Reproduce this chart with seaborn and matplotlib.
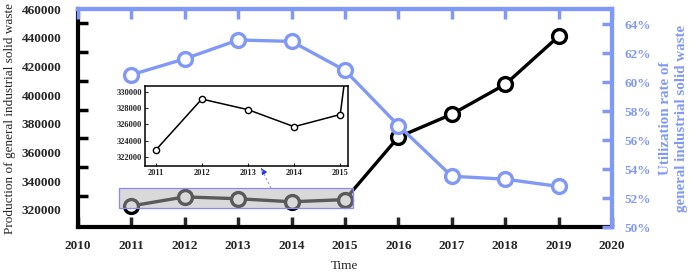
import numpy as np
import pandas as pd
import seaborn as sns
import matplotlib.pyplot as plt
from matplotlib.patches import Rectangle
from matplotlib.ticker import FixedLocator

# data
years = [2011, 2012, 2013, 2014, 2015, 2016, 2017, 2018, 2019]
production = [322800, 329100, 327800, 325700, 327200, 370800, 386700, 407500, 441000]
utilization = [60.5, 61.6, 62.9, 62.8, 60.8, 57.0, 53.5, 53.3, 52.8]
x_ticks = list(range(2010, 2021))
left_labels = list(range(320000, 460001, 20000))
right_labels = list(range(50, 65, 2))
inset_yticks = [322000, 324000, 326000, 328000, 330000]

df = pd.DataFrame({'year': years, 'production': production, 'utilization': utilization})

sns.set_style('ticks')
plt.rcParams['font.family'] = ['Liberation Serif', 'DejaVu Serif']

blue = '#8199f6'

fig = plt.figure(figsize=(6.92, 2.75), dpi=100)
ax = fig.add_axes([0.1127, 0.1745, 0.7717, 0.7925])

sns.lineplot(data=df, x='year', y='production', ax=ax, color='black', lw=2.4,
             marker='o', markersize=10, markerfacecolor='white',
             markeredgecolor='black', markeredgewidth=2.4, zorder=3)
ax.set_xlim(2010, 2020)
ax.set_ylim(308100, 460000)
ax.set_xticks(x_ticks)
ax.set_xticklabels([str(t) for t in x_ticks], fontweight='bold', fontsize=9.5)
# labels sit on the majors, the tick marks sit between them
ax.yaxis.set_major_locator(FixedLocator(left_labels))
ax.yaxis.set_minor_locator(FixedLocator(list(range(330000, 450001, 20000))))
ax.set_yticklabels([str(v) for v in left_labels], fontweight='bold', fontsize=9.5)
ax.tick_params(axis='y', which='major', length=0, pad=12)
ax.tick_params(axis='y', which='minor', direction='in', length=7, width=2.5, color='black')
ax.tick_params(axis='x', direction='in', length=7, width=2.5, top=False, pad=9)
ax.set_xlabel('Time', fontsize=9.5, labelpad=6)
ax.set_ylabel('Production of general industrial solid waste', fontsize=9.5, labelpad=4)
for side in ['left', 'bottom']:
    ax.spines[side].set_linewidth(3)
    ax.spines[side].set_color('black')
for side in ['top', 'right']:
    ax.spines[side].set_linewidth(3)
    ax.spines[side].set_color(blue)

# zoom region marker
ax.add_patch(Rectangle((2010.76, 321300), 4.39, 13900, facecolor='#b4b4b4',
                       alpha=0.5, edgecolor='none', zorder=4))
ax.add_patch(Rectangle((2010.76, 321300), 4.39, 13900, facecolor='none',
                       edgecolor='#8a8af0', lw=0.9, zorder=5))

ax2 = ax.twinx()
sns.lineplot(data=df, x='year', y='utilization', ax=ax2, color=blue, lw=2.4,
             marker='o', markersize=10, markerfacecolor='white',
             markeredgecolor=blue, markeredgewidth=2.4)
ax2.set_ylim(50, 65.03)
ax2.set_yticks(right_labels)
ax2.set_yticklabels([f'{v}%' for v in right_labels], fontweight='bold',
                    fontsize=9.5, color=blue)
ax2.tick_params(axis='y', direction='in', length=7, width=2.5, color=blue, pad=9)
ax2.set_ylabel('Utilization rate of\ngeneral industrial solid waste', color=blue,
               fontweight='bold', fontsize=10.8, labelpad=6, linespacing=1.3)
# blue ticks along the top edge
ax2.xaxis.set_visible(True)
ax2.set_xticks(x_ticks)
ax2.set_xlabel('')
ax2.tick_params(axis='x', bottom=False, labelbottom=False, top=True, labeltop=False,
                direction='in', length=7, width=2.5, color=blue)
for side in ['left', 'bottom']:
    ax2.spines[side].set_visible(False)
for side in ['top', 'right']:
    ax2.spines[side].set_linewidth(3)
    ax2.spines[side].set_color(blue)

# inset
axin = fig.add_axes([0.2095, 0.396, 0.2935, 0.291])
sns.lineplot(data=df, x='year', y='production', ax=axin, color='black', lw=1.1,
             marker='o', markersize=4.5, markerfacecolor='white',
             markeredgecolor='black', markeredgewidth=1)
axin.set_xlim(2010.77, 2015.17)
axin.set_ylim(320850, 330700)
axin.set_xticks(years[:5])
axin.set_xticklabels([str(y) for y in years[:5]], fontweight='bold', fontsize=6)
axin.set_yticks(inset_yticks)
axin.set_yticklabels([str(v) for v in inset_yticks], fontweight='bold', fontsize=6)
axin.tick_params(direction='in', length=2, width=0.8, pad=2)
axin.set_xlabel('')
axin.set_ylabel('')
for s in axin.spines.values():
    s.set_linewidth(1.1)
    s.set_color('black')

# arrow from marked region to inset
fig.add_artist(plt.Line2D([271 / 692, 262 / 692], [1 - 188 / 275, 1 - 170 / 275],
                          transform=fig.transFigure, color=blue, lw=0.8, ls=(0, (2, 2))))
ax.annotate('', xy=(260 / 692, 1 - 166 / 275), xytext=(263 / 692, 1 - 171 / 275),
            xycoords='figure fraction', textcoords='figure fraction',
            arrowprops=dict(arrowstyle='-|>', color='#2030e0', lw=0.8,
                            mutation_scale=8))

fig.savefig('out.png', dpi=100)
